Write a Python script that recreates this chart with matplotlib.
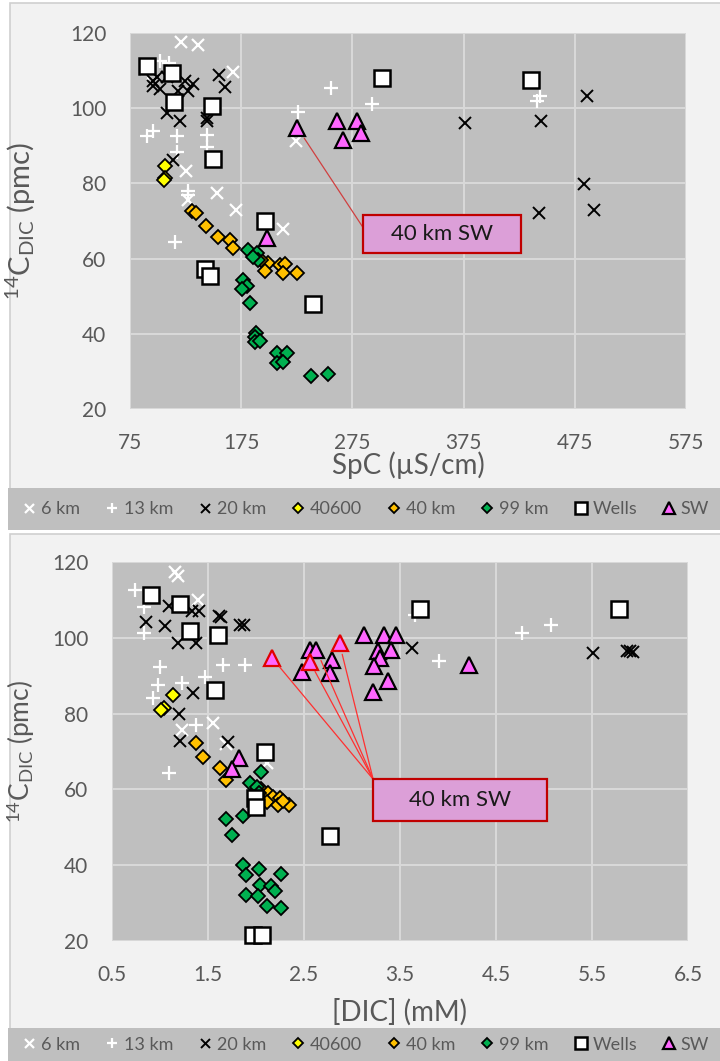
import matplotlib
matplotlib.use("Agg")
import matplotlib.pyplot as plt
from matplotlib.patches import Rectangle
from matplotlib.lines import Line2D

plt.rcParams['font.family'] = ['Lato', 'DejaVu Sans']
plt.rcParams['mathtext.fontset'] = 'custom'
plt.rcParams['mathtext.rm'] = 'Lato'
plt.rcParams['mathtext.it'] = 'Lato:italic'

# ---------------- data: specific conductance vs 14C ----------------
spc_6km_x = [121, 136, 168, 224, 125, 153, 127, 170, 213]
spc_6km_y = [117.7, 116.8, 109.5, 91.3, 83.3, 77.4, 75.5, 72.8, 68]

spc_13km_x = [102, 110, 91.5, 90, 95.5, 117, 117, 144.5, 144.5, 127.5, 127, 115.5, 226, 256, 293, 441, 444]
spc_13km_y = [112.6, 112, 108.7, 92.6, 94, 92.6, 88.4, 93, 89.6, 78, 77, 64.4, 99, 105.5, 101, 102, 103.3]

spc_20km_x = [96, 99, 96, 102, 108, 118.5, 124.5, 127.5, 132, 155, 160, 108, 120, 144.5, 144.5, 114,
              376, 445, 486, 483.5, 443, 492.5]
spc_20km_y = [107.3, 108.2, 106, 105, 108.2, 104.7, 107.3, 104.7, 106.4, 108.7, 105.6, 98.8, 96.6, 97.5, 96.6, 86.3,
              96, 96.6, 103.3, 79.9, 72.2, 72.9]

spc_40600_x = [106.5, 106.5, 105.5]
spc_40600_y = [84.6, 81.5, 81]

spc_40km_x = [131, 134.5, 143.5, 154.5, 165, 167.5, 199.5, 196, 193, 210, 214.5, 213, 225.5]
spc_40km_y = [72.6, 72.2, 68.8, 65.8, 64.9, 62.7, 58.7, 56.8, 59.5, 58.2, 58.6, 56.2, 56.2]

spc_99km_x = [181.5, 189, 190.5, 186, 177, 180, 176, 183, 188.5, 187.5, 187.5, 192, 207, 216, 207, 213, 237.5, 253]
spc_99km_y = [62.2, 61.6, 59.7, 60.5, 54.4, 52.8, 52, 48.2, 40.2, 39.2, 37.8, 38.2, 35, 35, 32.2, 32.5, 28.9, 29.4]

spc_wells_x = [90, 112.5, 114.5, 149, 150, 196.5, 142, 146.5, 240, 302, 436]
spc_wells_y = [111.3, 109.3, 101.7, 100.6, 86.4, 70, 57.2, 55.5, 48, 107.9, 107.5]

spc_sw_x = [225.5, 261, 266.5, 279, 283, 198]
spc_sw_y = [94.8, 96.5, 91.5, 96.6, 93.5, 65.5]

# ---------------- data: DIC vs 14C ----------------
dic_6km_x = [1.16, 1.19, 1.4, 1.23, 1.55, 1.69, 2.11]
dic_6km_y = [117.4, 116.2, 110, 75.7, 77.4, 72, 66.9]

dic_13km_x = [0.74, 0.83, 0.83, 1.0, 0.98, 1.23, 0.93, 1.47, 1.66, 1.89, 1.38, 1.09, 3.91, 4.77, 5.07, 3.66]
dic_13km_y = [112.6, 108.2, 101.2, 92.4, 87.5, 88, 84, 89.7, 92.8, 92.8, 77, 64.2, 93.9, 101.3, 103.3, 106]

dic_20km_x = [0.85, 1.05, 1.09, 1.19, 1.38, 1.33, 1.41, 1.61, 1.64, 1.83, 1.87, 1.34, 1.2, 1.21, 1.71,
              3.63, 5.51, 5.86, 5.9, 5.93]
dic_20km_y = [104.2, 103, 108.4, 98.5, 98.5, 107, 107, 105.7, 105.5, 103.4, 103.4, 85.5, 80, 72.8, 72.6,
              97.2, 96, 96.6, 96.6, 96.3]

dic_40600_x = [1.14, 1.04, 1.01]
dic_40600_y = [84.9, 81.4, 81]

dic_40km_x = [1.38, 1.45, 1.63, 1.69, 2.05, 2.13, 2.18, 2.25, 2.11, 2.23, 2.34, 2.28]
dic_40km_y = [72.3, 68.6, 65.6, 62.5, 60, 59, 58, 57.6, 56.7, 55.9, 55.9, 57]

dic_99km_x = [2.05, 1.94, 2.01, 2.03, 1.69, 1.86, 1.75, 1.86, 2.03, 1.9, 2.26, 2.04, 2.16, 2.2, 1.9, 2.02, 2.11, 2.26]
dic_99km_y = [64.7, 61.8, 60.7, 59, 52.2, 53, 48, 40, 39, 37.4, 37.7, 34.8, 34.6, 33.2, 32.1, 31.9, 29.3, 28.6]

dic_wells_x = [0.91, 1.21, 1.31, 1.6, 1.57, 2.09, 1.99, 2.0, 2.77, 1.97, 2.06, 3.71, 5.78]
dic_wells_y = [111.3, 108.9, 101.9, 100.7, 86.2, 69.8, 57.6, 55.4, 47.7, 21.6, 21.6, 107.6, 107.6]

dic_sw_x = [1.82, 1.75, 2.56, 2.63, 2.48, 2.79, 2.77, 3.12, 3.33, 3.46, 3.27, 3.41, 3.29, 3.23, 3.37, 3.22, 4.22]
dic_sw_y = [68.2, 65.3, 96.7, 96.7, 91.1, 94.1, 90.6, 100.8, 100.8, 100.8, 96.5, 96.9, 94.6, 92.5, 88.5, 85.7, 92.8]

# the 40 km SW samples, outlined in red
dic_sw40_x = [2.17, 2.56, 2.87]
dic_sw40_y = [94.6, 93.7, 98.5]

legend_labels = ["6 km", "13 km", "20 km", "40600", "40 km", "99 km", "Wells", "SW"]

spc_ticks = [75, 175, 275, 375, 475, 575]
dic_ticks = [0.5, 1.5, 2.5, 3.5, 4.5, 5.5, 6.5]
pmc_ticks = [20, 40, 60, 80, 100, 120]

# ---------------- styling ----------------
W, H = 720, 1061
TXT = '#595959'
PLOT_BG = '#bfbfbf'
GRID = '#d9d9d9'
CHART_BG = '#f2f2f2'
SW_FACE = '#ff66ff'

styles = {
    "6 km": dict(marker='x', color='white', ls='none', ms=9, mew=1.6),
    "13 km": dict(marker='+', color='white', ls='none', ms=10, mew=1.6),
    "20 km": dict(marker='x', color='black', ls='none', ms=9, mew=1.4),
    "40600": dict(marker='D', mfc='#ffff00', mec='black', ls='none', ms=7.5, mew=1.3),
    "40 km": dict(marker='D', mfc='#ffc000', mec='black', ls='none', ms=7.5, mew=1.3),
    "99 km": dict(marker='D', mfc='#00b050', mec='black', ls='none', ms=7.5, mew=1.3),
    "Wells": dict(marker='s', mfc='white', mec='black', ls='none', ms=12, mew=1.8),
    "SW": dict(marker='^', mfc=SW_FACE, mec='black', ls='none', ms=12, mew=1.6),
}

fig = plt.figure(figsize=(W / 100, H / 100), dpi=100)
fig.patch.set_facecolor('white')


def px_rect(x0, y0, x1, y1, **kw):
    fig.patches.append(Rectangle((x0 / W, 1 - y1 / H), (x1 - x0) / W, (y1 - y0) / H,
                                 transform=fig.transFigure, zorder=-10, **kw))


# chart frames and legend bands
px_rect(10, 3, 722, 489, facecolor=CHART_BG, edgecolor='#d0d0d0', lw=1.2)
px_rect(8, 488, 722, 530, facecolor=PLOT_BG, edgecolor='none')
px_rect(10, 534, 722, 1029, facecolor=CHART_BG, edgecolor='#d0d0d0', lw=1.2)
px_rect(8, 1028, 722, 1063, facecolor=PLOT_BG, edgecolor='none')


def make_axes(l, t, r, b):
    ax = fig.add_axes([l / W, 1 - b / H, (r - l) / W, (b - t) / H])
    ax.set_zorder(1)
    ax.set_facecolor(PLOT_BG)
    for s in ax.spines.values():
        s.set_visible(False)
    ax.grid(True, color=GRID, lw=1.4)
    ax.set_axisbelow(True)
    ax.tick_params(length=0, labelsize=15, labelcolor=TXT, pad=17)
    return ax


def draw_series(ax, series):
    for name, xs, ys in series:
        ax.plot(xs, ys, clip_on=False, **styles[name])


# ---------------- top panel ----------------
ax1 = make_axes(130, 33, 686, 409)
draw_series(ax1, [
    ("6 km", spc_6km_x, spc_6km_y), ("13 km", spc_13km_x, spc_13km_y),
    ("20 km", spc_20km_x, spc_20km_y), ("40600", spc_40600_x, spc_40600_y),
    ("40 km", spc_40km_x, spc_40km_y), ("99 km", spc_99km_x, spc_99km_y),
    ("Wells", spc_wells_x, spc_wells_y), ("SW", spc_sw_x, spc_sw_y)])
ax1.set_xlim(75, 575)
ax1.set_ylim(20, 120)
ax1.set_xticks(spc_ticks)
ax1.set_yticks(pmc_ticks)
ax1.tick_params(axis='x', pad=17)
ax1.set_xlabel('SpC (µS/cm)', fontsize=20, color=TXT, va='center')
ax1.xaxis.set_label_coords(0.5, -0.150)
ax1.set_ylabel(r'$^{14}$C$_{\mathrm{DIC}}$ (pmc)', fontsize=21, color=TXT)
ax1.yaxis.set_label_coords(-0.165, 0.5)

# callout box for the 40 km SW sample
ax1.add_patch(Rectangle((284.5, 61.6), 142, 10.1, facecolor='#dc9fd8', edgecolor='#c00000',
                        lw=1.6, zorder=5))
ax1.text(355.5, 66.6, '40 km SW', ha='center', va='center', fontsize=16, color='#1a1a1a', zorder=6)
ax1.annotate('', xy=(spc_sw_x[0], spc_sw_y[0]), xytext=(284.5, 68.3),
             arrowprops=dict(arrowstyle='-', color='#d04040', lw=0.9, shrinkA=0, shrinkB=9), zorder=4)

# ---------------- bottom panel ----------------
ax2 = make_axes(112, 562, 688, 941)
draw_series(ax2, [
    ("6 km", dic_6km_x, dic_6km_y), ("13 km", dic_13km_x, dic_13km_y),
    ("20 km", dic_20km_x, dic_20km_y), ("40600", dic_40600_x, dic_40600_y),
    ("40 km", dic_40km_x, dic_40km_y), ("99 km", dic_99km_x, dic_99km_y),
    ("Wells", dic_wells_x, dic_wells_y), ("SW", dic_sw_x, dic_sw_y)])
sw40 = dict(styles["SW"])
sw40['mec'] = '#e00000'
ax2.plot(dic_sw40_x, dic_sw40_y, **sw40)
ax2.set_xlim(0.5, 6.5)
ax2.set_ylim(20, 120)
ax2.set_xticks(dic_ticks)
ax2.set_yticks(pmc_ticks)
ax2.tick_params(axis='x', pad=17)
ax2.set_xlabel('[DIC] (mM)', fontsize=20, color=TXT, va='center')
ax2.xaxis.set_label_coords(0.5, -0.187)
ax2.set_ylabel(r'$^{14}$C$_{\mathrm{DIC}}$ (pmc)', fontsize=19, color=TXT)
ax2.yaxis.set_label_coords(-0.13, 0.5)

ax2.add_patch(Rectangle((3.22, 51.7), 1.81, 11.0, facecolor='#dc9fd8', edgecolor='#c00000',
                        lw=1.6, zorder=5))
ax2.text(4.125, 57.2, '40 km SW', ha='center', va='center', fontsize=16, color='#1a1a1a', zorder=6)
for x, y in zip(dic_sw40_x + [dic_sw_x[3]], dic_sw40_y + [dic_sw_y[3]]):
    ax2.annotate('', xy=(x, y), xytext=(3.22, 62.7),
                 arrowprops=dict(arrowstyle='-', color='#ff3030', lw=0.9, shrinkA=0, shrinkB=8), zorder=4)

# ---------------- legends ----------------
handles = []
for name in legend_labels:
    st = dict(styles[name])
    st['ms'] = st['ms'] * 0.72
    handles.append(Line2D([], [], **st))

for y0, y1 in [(488, 530), (1028, 1061)]:
    leg = fig.legend(handles, legend_labels, loc='center', ncol=8, frameon=False, mode='expand',
                     bbox_to_anchor=(12 / W, 1 - y1 / H, 708 / W, (y1 - y0) / H),
                     fontsize=13, labelcolor=TXT, handlelength=0.7, handletextpad=0.3,
                     columnspacing=0.6, borderpad=0.1)
    leg.set_zorder(2)

fig.savefig('out.png', dpi=100, facecolor=fig.get_facecolor())
